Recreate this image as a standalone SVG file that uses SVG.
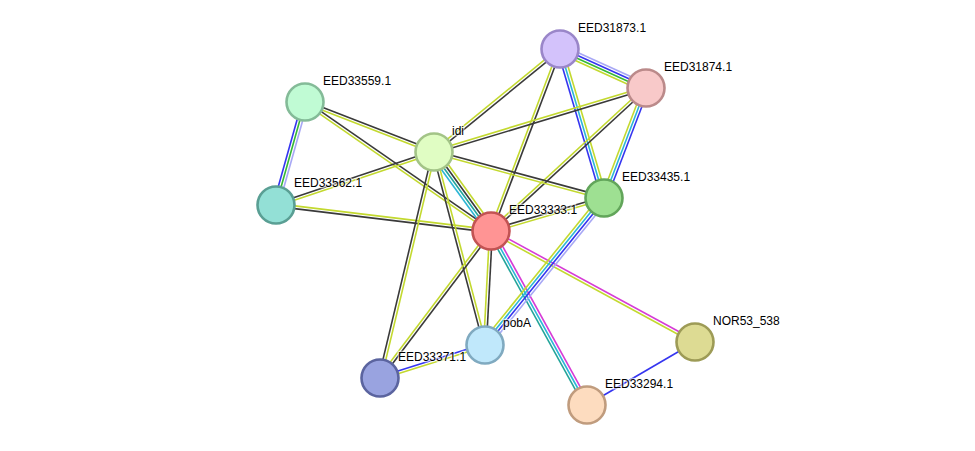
<svg xmlns="http://www.w3.org/2000/svg" width="975" height="451" viewBox="0 0 975 451">
<style>
line{stroke-width:1.6;fill:none;vector-effect:non-scaling-stroke}
.k{stroke:#3a3a3a}
.y{stroke:#c3d92f}
.b{stroke:#3535f0}
.c{stroke:#2cb6d6}
.g{stroke:#35b835}
.t{stroke:#23a59a}
.l{stroke:#a8a8f5}
.m{stroke:#d63cd6}
.n circle{stroke-width:2.6}
text{font-family:"Liberation Sans",Arial,sans-serif;font-size:12px;fill:#000;stroke:#fff;stroke-width:2.5;stroke-opacity:0.6;paint-order:stroke}
</style>
<rect width="975" height="451" fill="#fff"/>
<g id="edges">
<g transform="translate(560 49) rotate(24.39) scale(1 1.4)"><line x2="94.43" y1="-3" y2="-3" class="l"/><line x2="94.43" y1="-1" y2="-1" class="b"/><line x2="94.43" y1="1" y2="1" class="g"/><line x2="94.43" y1="3" y2="3" class="y"/></g>
<g transform="translate(560 49) rotate(73.55) scale(1 1.4)"><line x2="155.36" y1="-2" y2="-2" class="y"/><line x2="155.36" class="c"/><line x2="155.36" y1="2" y2="2" class="b"/></g>
<g transform="translate(646 88) rotate(110.9) scale(1 1.4)"><line x2="117.75" y1="-2" y2="-2" class="b"/><line x2="117.75" class="c"/><line x2="117.75" y1="2" y2="2" class="y"/></g>
<g transform="translate(560 49) rotate(140.73) scale(1 1.4)"><line x2="162.74" y1="-1" y2="-1" class="k"/><line x2="162.74" y1="1" y2="1" class="y"/></g>
<g transform="translate(560 49) rotate(110.76) scale(1 1.4)"><line x2="194.64" y1="-1" y2="-1" class="k"/><line x2="194.64" y1="1" y2="1" class="y"/></g>
<g transform="translate(646 88) rotate(163.2) scale(1 1.4)"><line x2="221.45" y1="-1" y2="-1" class="k"/><line x2="221.45" y1="1" y2="1" class="y"/></g>
<g transform="translate(646 88) rotate(137.31) scale(1 1.4)"><line x2="210.89" y1="-1" y2="-1" class="k"/><line x2="210.89" y1="1" y2="1" class="y"/></g>
<g transform="translate(305 102) rotate(105.72) scale(1 1.4)"><line x2="107" y1="-2" y2="-2" class="l"/><line x2="107" class="g"/><line x2="107" y1="2" y2="2" class="b"/></g>
<g transform="translate(305 102) rotate(21.19) scale(1 1.4)"><line x2="138.35" y1="-1" y2="-1" class="k"/><line x2="138.35" y1="1" y2="1" class="y"/></g>
<g transform="translate(305 102) rotate(34.74) scale(1 1.4)"><line x2="226.36" y1="-1" y2="-1" class="k"/><line x2="226.36" y1="1" y2="1" class="y"/></g>
<g transform="translate(276 205) rotate(-18.54) scale(1 1.4)"><line x2="166.65" y1="-1" y2="-1" class="k"/><line x2="166.65" y1="1" y2="1" class="y"/></g>
<g transform="translate(276 205) rotate(6.9) scale(1 1.4)"><line x2="216.57" y1="-1" y2="-1" class="y"/><line x2="216.57" y1="1" y2="1" class="k"/></g>
<g transform="translate(434 152) rotate(15.14) scale(1 1.4)"><line x2="176.11" y1="-1" y2="-1" class="k"/><line x2="176.11" y1="1" y2="1" class="y"/></g>
<g transform="translate(434 152) rotate(54.19) scale(1 1.4)"><line x2="97.42" y1="-3" y2="-3" class="y"/><line x2="97.42" y1="-1" y2="-1" class="k"/><line x2="97.42" y1="1" y2="1" class="t"/><line x2="97.42" y1="3" y2="3" class="c"/></g>
<g transform="translate(434 152) rotate(75.2) scale(1 1.4)"><line x2="199.62" y1="-1" y2="-1" class="y"/><line x2="199.62" y1="1" y2="1" class="k"/></g>
<g transform="translate(434 152) rotate(103.44) scale(1 1.4)"><line x2="232.36" y1="-1" y2="-1" class="y"/><line x2="232.36" y1="1" y2="1" class="k"/></g>
<g transform="translate(491 231) rotate(-16.28) scale(1 1.4)"><line x2="117.72" y1="-1" y2="-1" class="k"/><line x2="117.72" y1="1" y2="1" class="y"/></g>
<g transform="translate(491 231) rotate(93.01) scale(1 1.4)"><line x2="114.16" y1="-1" y2="-1" class="k"/><line x2="114.16" y1="1" y2="1" class="y"/></g>
<g transform="translate(491 231) rotate(127.06) scale(1 1.4)"><line x2="184.2" y1="-1" y2="-1" class="k"/><line x2="184.2" y1="1" y2="1" class="y"/></g>
<g transform="translate(491 231) rotate(28.55) scale(1 1.4)"><line x2="232.24" y1="-1" y2="-1" class="m"/><line x2="232.24" y1="1" y2="1" class="y"/></g>
<g transform="translate(491 231) rotate(61.11) scale(1 1.4)"><line x2="198.73" y1="-2" y2="-2" class="m"/><line x2="198.73" class="c"/><line x2="198.73" y1="2" y2="2" class="t"/></g>
<g transform="translate(604 198) rotate(129) scale(1 1.4)"><line x2="189.13" y1="-3" y2="-3" class="l"/><line x2="189.13" y1="-1" y2="-1" class="b"/><line x2="189.13" y1="1" y2="1" class="c"/><line x2="189.13" y1="3" y2="3" class="y"/></g>
<g transform="translate(485 345) rotate(162.55) scale(1 1.4)"><line x2="110.06" y1="-1" y2="-1" class="y"/><line x2="110.06" y1="1" y2="1" class="b"/></g>
<g transform="translate(695 342) rotate(149.74)"><line x2="125.03" class="b"/></g>
</g>
<g id="n-EED31873" class="n"><circle cx="560" cy="49" r="18.5" fill="#d3c2fb" stroke="#9a86c9"/><text x="578" y="32">EED31873.1</text></g>
<g id="n-EED31874" class="n"><circle cx="646" cy="88" r="18.5" fill="#f8c9c9" stroke="#bb8a8a"/><text x="664" y="71">EED31874.1</text></g>
<g id="n-EED33559" class="n"><circle cx="305" cy="102" r="18.5" fill="#c0fbd4" stroke="#84bb98"/><text x="323" y="85">EED33559.1</text></g>
<g id="n-idi" class="n"><circle cx="434" cy="152" r="18.5" fill="#e0fdc3" stroke="#a3c487"/><text x="452" y="135">idi</text></g>
<g id="n-EED33562" class="n"><circle cx="276" cy="205" r="18.5" fill="#93e0d6" stroke="#5a9f94"/><text x="294" y="187">EED33562.1</text></g>
<g id="n-EED33435" class="n"><circle cx="604" cy="198" r="18.5" fill="#9ee092" stroke="#62a55a"/><text x="622" y="181">EED33435.1</text></g>
<g id="n-EED33333" class="n"><circle cx="491" cy="231" r="18.5" fill="#ff9494" stroke="#c25353"/><text x="509" y="214">EED33333.1</text></g>
<g id="n-pobA" class="n"><circle cx="485" cy="345" r="18.5" fill="#c0e8fb" stroke="#80aac0"/><text x="503" y="327">pobA</text></g>
<g id="n-NOR53_538" class="n"><circle cx="695" cy="342" r="18.5" fill="#dddb93" stroke="#9d9b56"/><text x="713" y="325">NOR53_538</text></g>
<g id="n-EED33371" class="n"><circle cx="380" cy="378" r="18.5" fill="#99a3e0" stroke="#5b649f"/><text x="398" y="361">EED33371.1</text></g>
<g id="n-EED33294" class="n"><circle cx="587" cy="405" r="18.5" fill="#fddcbf" stroke="#c09c7e"/><text x="605" y="388">EED33294.1</text></g>
</svg>
